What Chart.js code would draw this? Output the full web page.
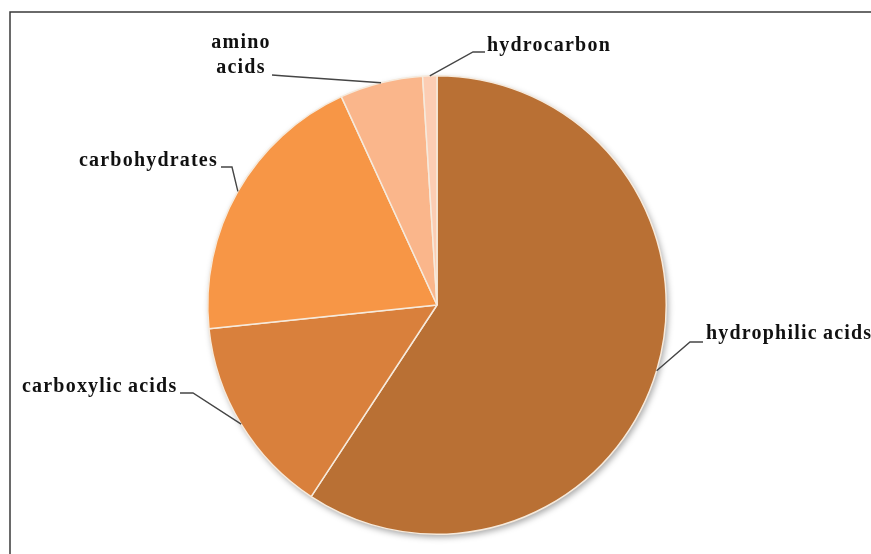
<!DOCTYPE html>
<html>
<head>
<meta charset="utf-8">
<script src="https://cdn.jsdelivr.net/npm/chart.js@4"></script>
<style>
  html, body { margin: 0; padding: 0; background: #fff; }
  #wrap { width: 871px; height: 554px; }
</style>
</head>
<body>
<div id="wrap"><canvas id="grafico" width="871" height="554"></canvas></div>
<script>
// dados (percentuais)
const categorias = ['hydrophilic acids', 'carboxylic acids', 'carbohydrates', 'amino acids', 'hydrocarbon'];
const valores = [59.25, 14.1, 19.8, 5.85, 1.0];
const cores = ['#B97034', '#D9803C', '#F79646', '#FAB68B', '#FCCDB3'];

// posição dos rótulos e das linhas de chamada (x, linha base, joelho, fim)
const rotulos = [
  { linhas: ['hydrophilic acids'], x: 706, y: [339], joelho: [690, 342], fim: [703, 342] },
  { linhas: ['carboxylic acids'], x: 22, y: [392], joelho: [193, 393], fim: [180, 393] },
  { linhas: ['carbohydrates'], x: 79, y: [166], joelho: [232, 167], fim: [221, 167] },
  { linhas: ['amino', 'acids'], centro: 241, y: [48, 73], joelho: [285, 76], fim: [272, 75] },
  { linhas: ['hydrocarbon'], x: 487, y: [51], joelho: [473, 52], fim: [485, 52] }
];

const pluginRotulos = {
  id: 'rotulos',
  beforeDraw(chart) {
    const ctx = chart.ctx;
    ctx.save();
    // moldura
    ctx.strokeStyle = '#3a3a3a';
    ctx.lineWidth = 1.5;
    ctx.beginPath();
    ctx.moveTo(871, 12);
    ctx.lineTo(10, 12);
    ctx.lineTo(10, 554);
    ctx.stroke();
    ctx.restore();
  },
  beforeDatasetsDraw(chart) {
    const arc = chart.getDatasetMeta(0).data[0];
    if (!arc) return;
    const ctx = chart.ctx;
    ctx.save();
    ctx.shadowColor = 'rgba(0,0,0,0.35)';
    ctx.shadowBlur = 6;
    ctx.shadowOffsetX = 2;
    ctx.shadowOffsetY = 3;
    ctx.fillStyle = '#ddd';
    ctx.beginPath();
    ctx.arc(arc.x, arc.y, arc.outerRadius, 0, Math.PI * 2);
    ctx.fill();
    ctx.restore();
  },
  afterDraw(chart) {
    const ctx = chart.ctx;
    const meta = chart.getDatasetMeta(0);
    ctx.save();
    ctx.font = 'bold 20px "Liberation Serif"';
    ctx.letterSpacing = '1.2px';
    ctx.fillStyle = '#111';
    ctx.textBaseline = 'alphabetic';
    rotulos.forEach((r, i) => {
      const a = meta.data[i];
      const meio = (a.startAngle + a.endAngle) / 2;
      const ax = a.x + Math.cos(meio) * a.outerRadius;
      const ay = a.y + Math.sin(meio) * a.outerRadius;
      ctx.strokeStyle = '#454545';
      ctx.lineWidth = 1.4;
      ctx.beginPath();
      ctx.moveTo(ax, ay);
      ctx.lineTo(r.joelho[0], r.joelho[1]);
      ctx.lineTo(r.fim[0], r.fim[1]);
      ctx.stroke();
      r.linhas.forEach((t, k) => {
        // o original quase não tem espaço entre as palavras
        const texto = t.replace(' ', '\u2009');
        if (r.centro !== undefined) {
          ctx.textAlign = 'center';
          ctx.fillText(texto, r.centro, r.y[k]);
        } else {
          ctx.textAlign = 'left';
          ctx.fillText(texto, r.x, r.y[k]);
        }
      });
    });
    ctx.restore();
  }
};

new Chart(document.getElementById('grafico'), {
  type: 'pie',
  data: {
    labels: categorias,
    datasets: [{
      data: valores,
      backgroundColor: cores,
      borderColor: '#F6EADC',
      borderWidth: 1.5
    }]
  },
  options: {
    responsive: false,
    animation: false,
    layout: { padding: { top: 75, bottom: 19, left: 207, right: 204 } },
    plugins: { legend: { display: false }, tooltip: { enabled: false } }
  },
  plugins: [pluginRotulos]
});
</script>
</body>
</html>
